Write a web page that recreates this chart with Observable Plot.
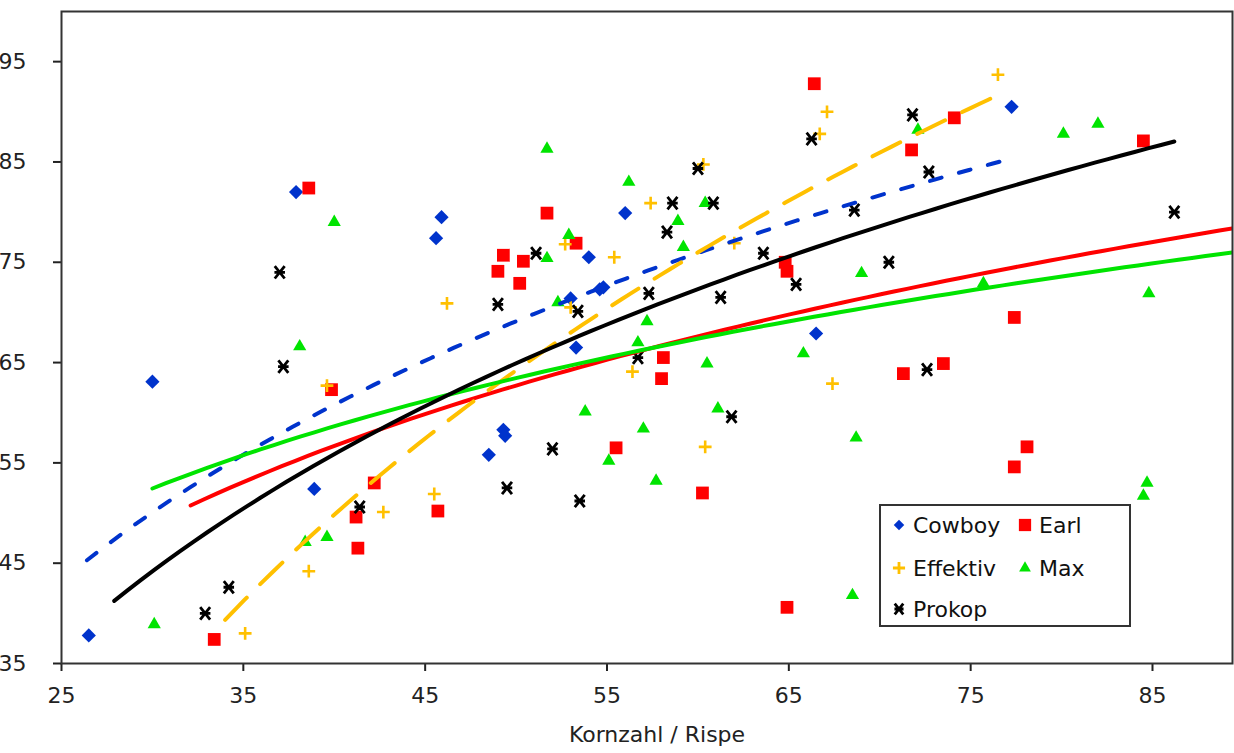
<!DOCTYPE html>
<html><head><meta charset="utf-8">
<script src="https://cdn.jsdelivr.net/npm/d3@7"></script>
<script src="https://cdn.jsdelivr.net/npm/@observablehq/plot@0.6"></script>
<style>
html,body{margin:0;padding:0;background:#fff;}
#wrap{position:relative;width:1234px;height:753px;font-family:"DejaVu Sans",sans-serif;}
#legend{position:absolute;left:879px;top:504px;width:252px;height:123px;box-sizing:border-box;border:2px solid #333;background:#fff;}
.item{position:absolute;display:flex;align-items:center;height:30px;font-size:22px;color:#111;white-space:nowrap;}
.item svg{flex:none;}
</style></head><body><div id="wrap"></div>
<script>
const xTicks = [25, 35, 45, 55, 65, 75, 85];
const yTicks = [35, 45, 55, 65, 75, 85, 95];
const xTitle = "Kornzahl / Rispe";

const seriesNames = ["Cowboy", "Earl", "Effektiv", "Max", "Prokop"];
const seriesColors = ["#0033CC", "#FF0000", "#FFC000", "#00E400", "#000000"];

const cowboyX = [26.5, 30.0, 37.9, 38.9, 45.6, 45.9, 48.5, 49.3, 49.4, 53.0, 53.3, 54.0, 54.6, 54.8, 56.0, 66.5, 77.25];
const cowboyY = [37.8, 63.1, 82.0, 52.4, 77.4, 79.5, 55.8, 58.3, 57.7, 71.4, 66.5, 75.5, 72.3, 72.5, 79.9, 67.9, 90.5];

const earlX = [33.4, 38.6, 39.85, 41.2, 41.3, 42.2, 45.7, 49.0, 49.3, 50.2, 50.4, 51.7, 53.3, 55.5, 58.0, 58.1, 60.25, 64.8, 64.9, 64.9, 66.4, 71.3, 71.75, 73.5, 74.1, 77.4, 77.4, 78.1, 84.5];
const earlY = [37.4, 82.4, 62.3, 49.6, 46.5, 53.0, 50.2, 74.1, 75.7, 72.9, 75.1, 79.9, 76.9, 56.5, 63.4, 65.5, 52.0, 75.0, 74.1, 40.6, 92.8, 63.9, 86.2, 64.9, 89.4, 69.5, 54.6, 56.6, 87.1];

const effektivX = [35.1, 38.6, 39.6, 42.7, 45.5, 46.2, 52.7, 53.0, 55.4, 56.4, 57.4, 60.3, 60.4, 62.0, 66.7, 67.1, 67.4, 76.5];
const effektivY = [38.0, 44.2, 62.7, 50.1, 51.9, 70.9, 76.8, 70.5, 75.5, 64.1, 80.9, 84.75, 56.6, 76.9, 87.8, 90.0, 62.9, 93.7];

const maxX = [30.1, 38.1, 38.4, 39.6, 40.0, 51.7, 51.7, 52.3, 52.9, 53.8, 55.1, 56.2, 56.7, 57.0, 57.2, 57.7, 58.9, 59.2, 60.4, 60.5, 61.1, 65.8, 68.5, 68.7, 69.0, 72.1, 75.7, 80.1, 82.0, 84.5, 84.7, 84.8];
const maxY = [38.9, 66.6, 47.1, 47.6, 79.0, 86.3, 75.4, 71.0, 77.7, 60.1, 55.2, 83.0, 67.0, 58.4, 69.1, 53.2, 79.1, 76.5, 80.9, 64.9, 60.4, 65.9, 41.8, 57.5, 73.9, 88.2, 72.9, 87.8, 88.8, 51.7, 53.0, 71.9];

const prokopX = [32.9, 34.2, 37.0, 37.2, 41.4, 49.0, 49.5, 51.1, 52.0, 53.4, 53.5, 56.7, 57.3, 58.3, 58.6, 60.0, 60.85, 61.25, 61.85, 63.6, 65.4, 66.25, 68.6, 70.5, 71.8, 72.6, 72.7, 86.2];
const prokopY = [40.0, 42.6, 74.0, 64.6, 50.6, 70.8, 52.5, 75.9, 56.4, 70.1, 51.2, 65.5, 71.9, 78.0, 80.9, 84.35, 80.9, 71.5, 59.6, 75.9, 72.8, 87.3, 80.2, 75.0, 89.7, 64.3, 84.0, 80.0];

// logarithmic trend lines y = a*ln(x) + b
const trendSlope = [37.3, 26.97, 64.5, 21.55, 40.6];
const trendIntercept = [-76.8, -42.8, -188.1, -20.85, -93.9];
const trendFrom = [26.4, 32.1, 34.0, 30.0, 27.9];
const trendTo = [76.8, 89.4, 76.5, 89.4, 86.2];

const xs = [cowboyX, earlX, effektivX, maxX, prokopX];
const ys = [cowboyY, earlY, effektivY, maxY, prokopY];

const excelStar = {
  draw(ctx, size) {
    const r = Math.sqrt(size / Math.PI);
    const d = r * 0.8;
    ctx.moveTo(-d, -r); ctx.lineTo(d, r);
    ctx.moveTo(d, -r); ctx.lineTo(-d, r);
    ctx.moveTo(-r * 0.85, 0); ctx.lineTo(r * 0.85, 0);
  }
};

const symbolSpec = [
  {symbol: "diamond2", r: 6.4, filled: true},
  {symbol: "square", r: 7.2, filled: true},
  {symbol: "plus", r: 4.2, filled: false, sw: 2.6},
  {symbol: "triangle", r: 4.9, filled: true},
  {symbol: excelStar, r: 6.2, filled: false, sw: 2.8}
];

const dotMarks = seriesNames.map((name, i) => {
  const rows = xs[i].map((x, k) => ({series: name, x, y: ys[i][k]}));
  const s = symbolSpec[i];
  return Plot.dot(rows, {
    x: "x", y: "y", symbol: () => s.symbol, r: s.r,
    fill: s.filled ? seriesColors[i] : "none",
    stroke: s.filled ? "none" : seriesColors[i],
    strokeWidth: s.sw || 0
  });
});

const dashes = ["12,18", null, "31,19", null, null];
const lineMarks = seriesNames.map((name, i) => {
  const n = 80;
  const pts = d3.range(n + 1).map(k => {
    const x = trendFrom[i] + (trendTo[i] - trendFrom[i]) * k / n;
    return {x, y: trendSlope[i] * Math.log(x) + trendIntercept[i]};
  });
  return Plot.line(pts, {
    x: "x", y: "y", stroke: seriesColors[i], strokeWidth: 4,
    strokeDasharray: dashes[i] || undefined, strokeLinecap: "round", clip: true
  });
});

const plot = Plot.plot({
  width: 1234, height: 753,
  marginLeft: 61, marginRight: 2, marginTop: 11, marginBottom: 90,
  style: {fontFamily: "DejaVu Sans", fontSize: "22px", color: "#222", background: "white", overflow: "visible"},
  x: {domain: [25, 89.4]},
  y: {domain: [35, 100]},
  marks: [
    Plot.axisX({ticks: xTicks, tickSize: 8, tickPadding: 16, strokeWidth: 2, label: null, tickFormat: d => String(d)}),
    Plot.axisY({ticks: yTicks, tickSize: 8, tickPadding: 27, strokeWidth: 2, label: null, tickFormat: d => String(d)}),
    ...dotMarks,
    ...lineMarks,
    Plot.frame({stroke: "#333", strokeWidth: 2}),
    Plot.text([xTitle], {text: d => d, frameAnchor: "bottom", dy: 78, dx: 10, fontSize: 22, fill: "#222"})
  ]
});

const wrap = document.getElementById("wrap");
wrap.appendChild(plot);

// legend
const legend = document.createElement("div");
legend.id = "legend";
wrap.appendChild(legend);
const legendPos = [[0, 0], [1, 0], [0, 1], [1, 1], [0, 2]];
const colLeft = [8, 134];
const rowTop = [4, 47, 88];
const legendSym = [
  {type: d3.symbolDiamond2, size: 70, filled: true},
  {type: d3.symbolSquare, size: 150, filled: true},
  {type: d3.symbolPlus, size: 50, filled: false},
  {type: d3.symbolTriangle, size: 60, filled: true},
  {type: excelStar, size: 90, filled: false}
];
seriesNames.forEach((name, i) => {
  const [c, r] = legendPos[i];
  const item = document.createElement("div");
  item.className = "item";
  item.style.left = colLeft[c] + "px";
  item.style.top = rowTop[r] + "px";
  const svg = d3.create("svg").attr("width", 20).attr("height", 20).style("margin-right", "4px");
  const ls = legendSym[i];
  svg.append("path")
    .attr("transform", "translate(10,10)")
    .attr("d", d3.symbol().type(ls.type).size(ls.size)())
    .attr("fill", ls.filled ? seriesColors[i] : "none")
    .attr("stroke", ls.filled ? "none" : seriesColors[i])
    .attr("stroke-width", ls.filled ? 0 : 2.8);
  item.appendChild(svg.node());
  const span = document.createElement("span");
  span.textContent = name;
  item.appendChild(span);
  legend.appendChild(item);
});
</script>
</body></html>
